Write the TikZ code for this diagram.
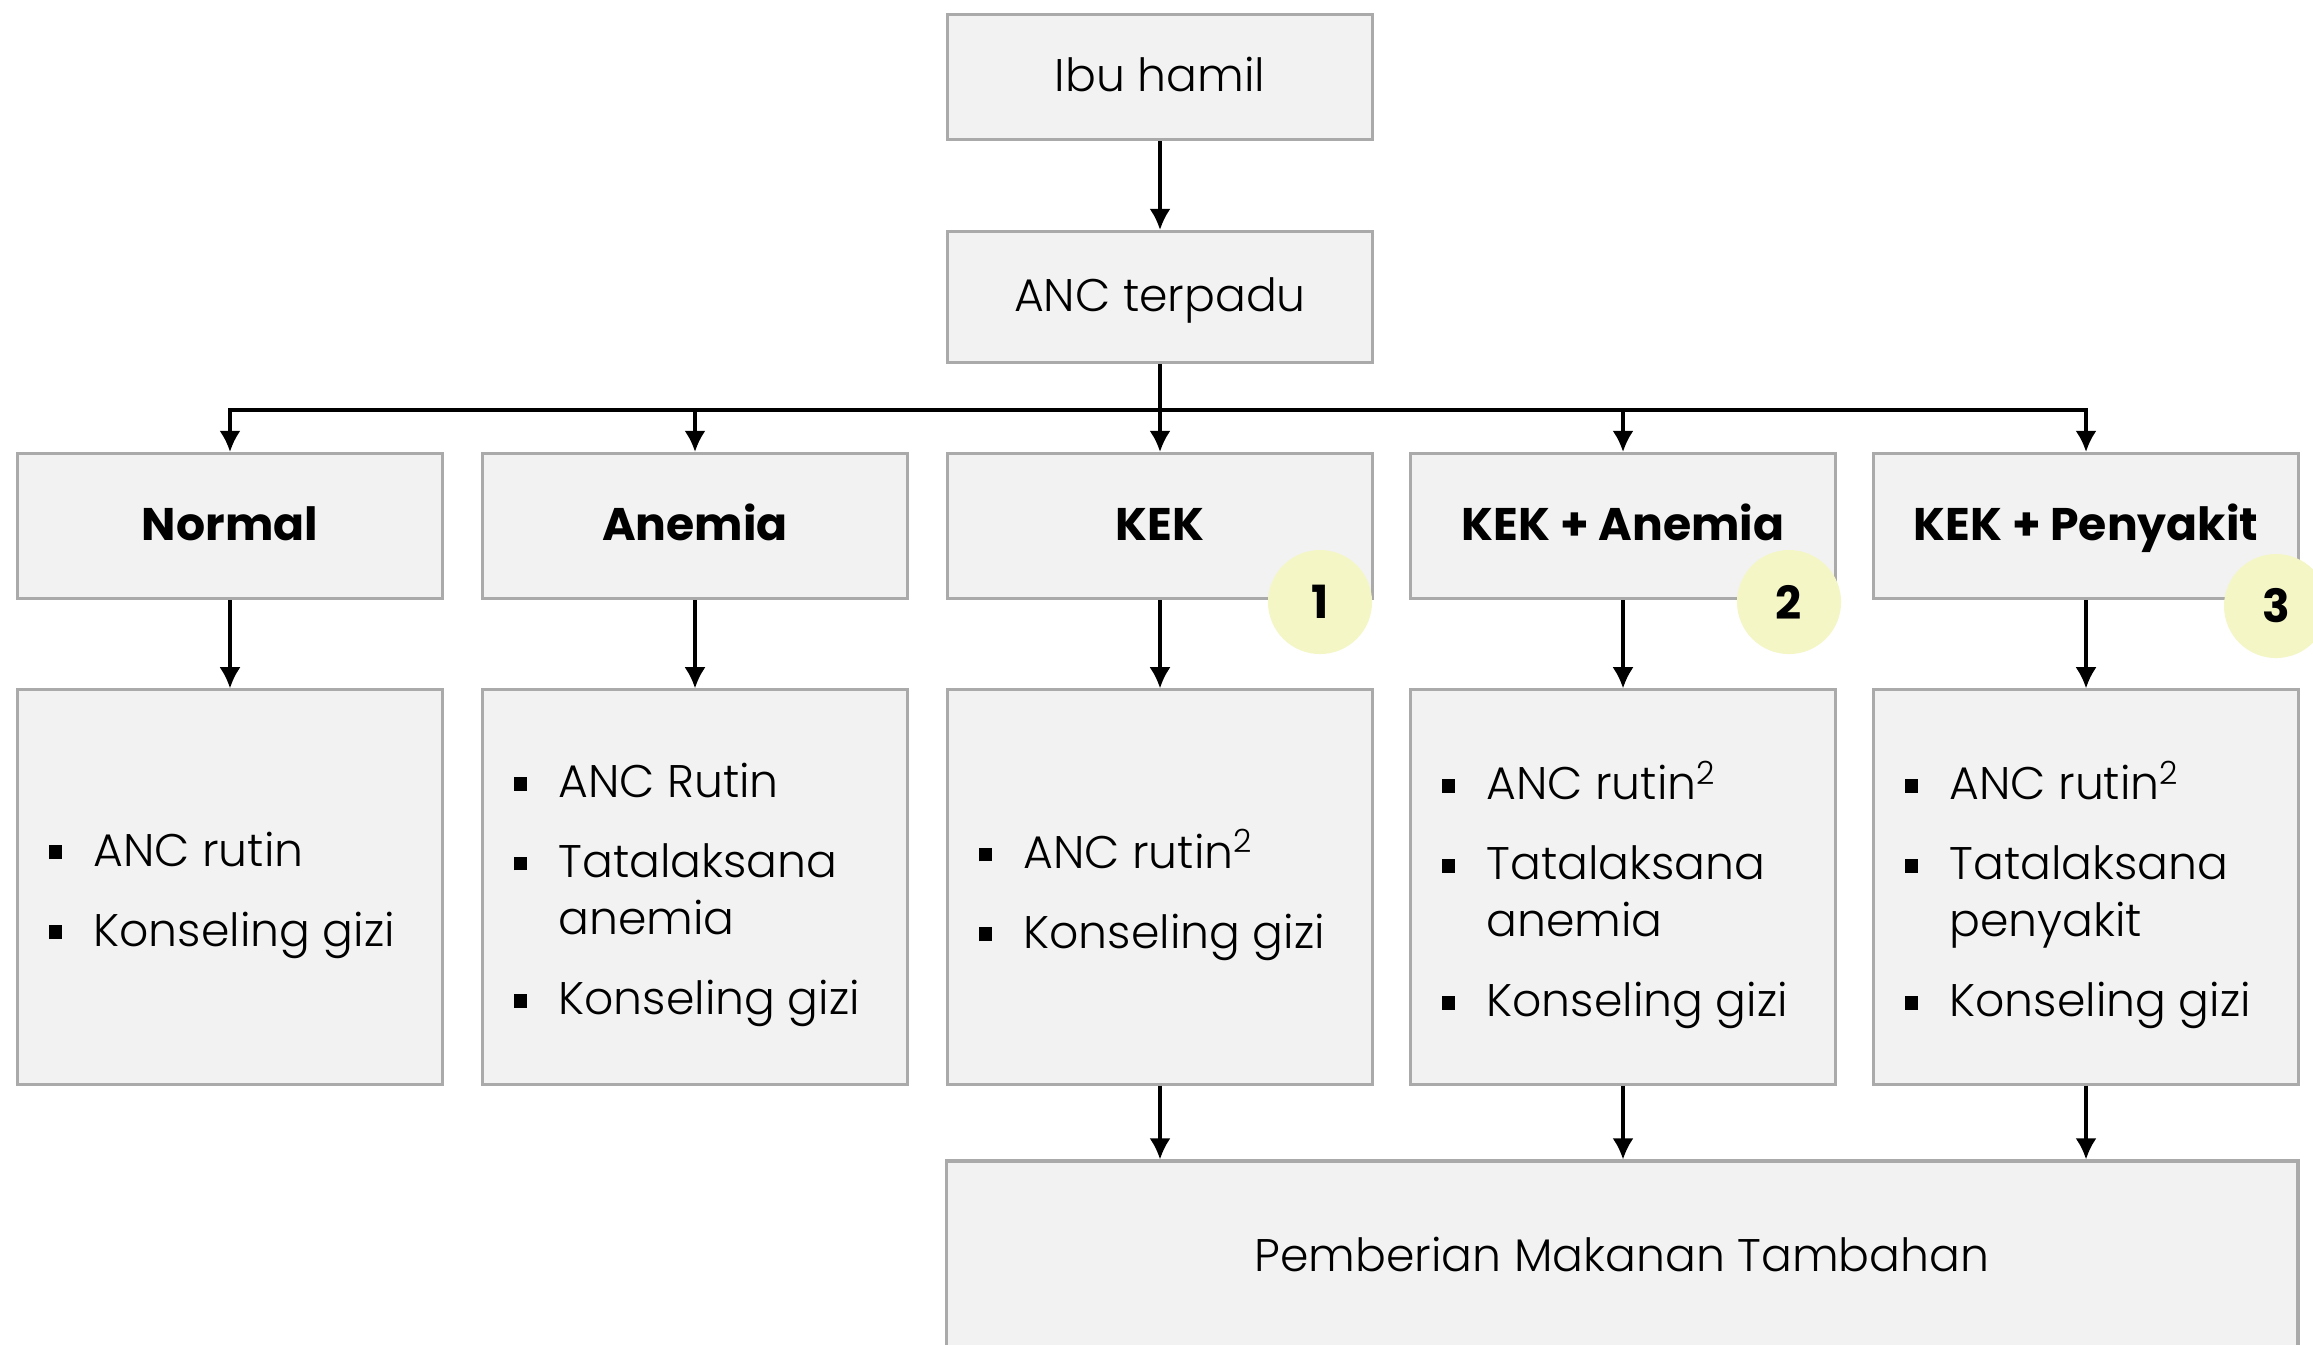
\documentclass[tikz,border=0pt]{standalone}
\usepackage{fontspec}
\setmainfont{Poppins}[UprightFont=* Light,BoldFont=* Bold]
\usepackage{tikz}
\usetikzlibrary{arrows.meta,calc}
\definecolor{isikotak}{RGB}{242,242,242}
\definecolor{garis}{RGB}{170,170,170}
\definecolor{kuning}{RGB}{244,246,198}
\newcommand{\kotakbullet}{\raisebox{0.28ex}{\rule{3.9pt}{3.9pt}}}
\newcommand{\butir}[1]{\makebox[0.45cm][l]{\kotakbullet}#1}
\newcommand{\lanjut}[1]{\hspace*{0.45cm}#1}

\begin{document}
\begin{tikzpicture}[x=0.01cm,y=-0.01cm,
  kotak/.style={draw=garis,fill=isikotak,line width=0.9pt,minimum width=4.25cm,inner sep=0pt,text height=0.92em,text depth=0.08em,font=\fontsize{13}{16.3}\selectfont},
  judul/.style={kotak,minimum height=1.45cm,font=\fontsize{13}{16.3}\selectfont\bfseries},
  isi/.style={kotak,minimum height=3.94cm},
  daftar/.style={anchor=west,align=left,inner sep=0pt,font=\fontsize{13}{16.3}\selectfont},
  panah/.style={-{Latex[length=6pt,width=6pt]},line width=0.9pt},
  nomor/.style={circle,fill=kuning,minimum size=1.04cm,inner sep=0pt,font=\fontsize{13}{16}\selectfont\bfseries}]
\clip (0,0) rectangle (2313,1344);
\fill[white] (0,0) rectangle (2313,1344);

\node[kotak,minimum height=1.25cm] (ibu) at (1160,77) {Ibu hamil};
\node[kotak,minimum height=1.31cm] (anc) at (1160,297) {ANC terpadu};
\coordinate (bus) at (1160,410);

\node[judul] (normal) at (230,526) {Normal};
\node[judul] (anemia) at (695,526) {Anemia};
\node[judul] (kek) at (1160,526) {KEK};
\node[judul] (kekan) at (1623,526) {KEK + Anemia};
\node[judul] (kekpen) at (2086,526) {KEK + Penyakit};

\node[isi] (normal-isi) at (230,887) {};
\node[isi] (anemia-isi) at (695,887) {};
\node[isi] (kek-isi) at (1160,887) {};
\node[isi] (kekan-isi) at (1623,887) {};
\node[isi] (kekpen-isi) at (2086,887) {};

\node[daftar] (normal-list) at ($(normal-isi.west)+(32,8)$) {\butir{ANC rutin}\\[6.4pt]\butir{Konseling gizi}};
\node[daftar] (anemia-list) at ($(anemia-isi.west)+(32,8)$) {\butir{ANC Rutin}\\[6.4pt]\butir{Tatalaksana}\\\lanjut{anemia}\\[6.4pt]\butir{Konseling gizi}};
\node[daftar] (kek-list) at ($(kek-isi.west)+(32,8)$) {\butir{ANC rutin\textsuperscript{2}}\\[6.4pt]\butir{Konseling gizi}};
\node[daftar] (kekan-list) at ($(kekan-isi.west)+(32,8)$) {\butir{ANC rutin\textsuperscript{2}}\\[6.4pt]\butir{Tatalaksana}\\\lanjut{anemia}\\[6.4pt]\butir{Konseling gizi}};
\node[daftar] (kekpen-list) at ($(kekpen-isi.west)+(32,8)$) {\butir{ANC rutin\textsuperscript{2}}\\[6.4pt]\butir{Tatalaksana}\\\lanjut{penyakit}\\[6.4pt]\butir{Konseling gizi}};

\node[kotak,minimum width=13.51cm,minimum height=1.92cm] (pmt) at (1622,1257) {Pemberian Makanan Tambahan};

\draw[panah] (ibu) -- (anc);
\foreach \n in {normal,anemia,kek,kekan,kekpen}{
  \draw[panah] (anc.south) -- (anc.south |- bus) -| (\n.north);
  \draw[panah] (\n.south) -- (\n-isi.north);
}
\foreach \n in {kek,kekan,kekpen}
  \draw[panah] (\n-isi.south) -- (\n-isi.south |- pmt.north);

\node[nomor] (satu) at (1320,602) {1};
\node[nomor] (dua) at (1789,602) {2};
\node[nomor] (tiga) at (2276,606) {3};
\end{tikzpicture}
\end{document}
